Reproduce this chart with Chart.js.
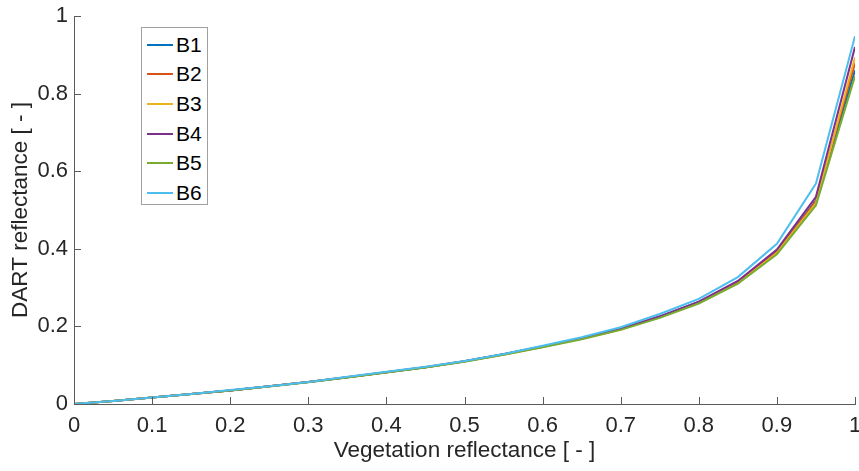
<!DOCTYPE html>
<html>
<head>
<meta charset="utf-8">
<script src="https://cdn.jsdelivr.net/npm/chart.js@4/dist/chart.umd.min.js"></script>
<style>
  body { margin: 0; background: #fff; }
  #wrap { position: relative; width: 859px; height: 471px; }
  #legend {
    position: absolute; left: 141px; top: 27px; width: 67px; height: 178px;
    border: 1px solid #a0a0a0; background: #fff; box-sizing: border-box;
    font-family: "Liberation Sans", Arial, sans-serif; font-size: 21px; color: #000;
    padding-top: 2px;
  }
  #legend .item { display: flex; align-items: center; height: 29.6px; }
  #legend .sw { width: 26px; height: 2px; margin-left: 5px; margin-right: 3px; }
</style>
</head>
<body>
<div id="wrap">
  <canvas id="lineChart" width="859" height="471"></canvas>
  <div id="legend"></div>
</div>
<script>
// Vegetation reflectance vs DART reflectance, bands B1..B6
const xValues = [0, 0.05, 0.1, 0.15, 0.2, 0.25, 0.3, 0.35, 0.4, 0.45, 0.5,
                 0.55, 0.6, 0.65, 0.7, 0.75, 0.8, 0.85, 0.9, 0.95, 1];

const b1 = [0, 0.008, 0.017, 0.026, 0.035, 0.046, 0.057, 0.069, 0.082, 0.095, 0.110,
            0.128, 0.148, 0.169, 0.193, 0.225, 0.263, 0.313, 0.393, 0.525, 0.860];
const b2 = [0, 0.008, 0.017, 0.026, 0.035, 0.046, 0.057, 0.069, 0.082, 0.095, 0.110,
            0.128, 0.148, 0.169, 0.193, 0.224, 0.262, 0.312, 0.392, 0.522, 0.878];
const b3 = [0, 0.008, 0.017, 0.026, 0.035, 0.046, 0.057, 0.069, 0.082, 0.095, 0.110,
            0.127, 0.147, 0.168, 0.192, 0.224, 0.261, 0.311, 0.390, 0.518, 0.893];
const b4 = [0, 0.008, 0.017, 0.026, 0.035, 0.046, 0.057, 0.069, 0.082, 0.095, 0.110,
            0.128, 0.148, 0.170, 0.194, 0.226, 0.264, 0.317, 0.398, 0.534, 0.920];
const b5 = [0, 0.008, 0.017, 0.026, 0.035, 0.045, 0.056, 0.068, 0.081, 0.094, 0.109,
            0.127, 0.146, 0.167, 0.191, 0.222, 0.259, 0.310, 0.386, 0.512, 0.845];
const b6 = [0, 0.008, 0.017, 0.026, 0.036, 0.046, 0.057, 0.070, 0.083, 0.096, 0.111,
            0.129, 0.150, 0.172, 0.198, 0.232, 0.271, 0.327, 0.413, 0.568, 0.948];

const bandNames = ['B1', 'B2', 'B3', 'B4', 'B5', 'B6'];
const bandValues = [b1, b2, b3, b4, b5, b6];
const bandColors = ['#0072BD', '#D95319', '#EDB120', '#7E2F8E', '#77AC30', '#4DBEEE'];

const fontName = '"Liberation Sans", Arial, sans-serif';
const axisColor = '#5a5a5a';
const textColor = '#262626';

// MATLAB style ticks pointing into the plot
const inwardTicks = {
    id: 'inwardTicks',
    afterDatasetsDraw(chart) {
        const ctx = chart.ctx;
        const xs = chart.scales.x, ys = chart.scales.y;
        ctx.save();
        ctx.strokeStyle = axisColor;
        ctx.lineWidth = 1;
        ctx.beginPath();
        xs.ticks.forEach(t => {
            const px = Math.round(xs.getPixelForValue(t.value)) + 0.5;
            ctx.moveTo(px, ys.bottom);
            ctx.lineTo(px, ys.bottom - 7);
        });
        ys.ticks.forEach(t => {
            const py = Math.round(ys.getPixelForValue(t.value)) + 0.5;
            ctx.moveTo(xs.left, py);
            ctx.lineTo(xs.left + 7, py);
        });
        ctx.stroke();
        ctx.restore();
    }
};

const ctxLine = document.getElementById('lineChart').getContext('2d');
const lineChart = new Chart(ctxLine, {
    type: 'line',
    data: {
        datasets: bandNames.map((name, i) => ({
            label: name,
            data: xValues.map((x, j) => ({ x: x, y: bandValues[i][j] })),
            borderColor: bandColors[i],
            backgroundColor: bandColors[i],
            borderWidth: 2,
            pointRadius: 0,
            tension: 0,
            order: 6 - i
        }))
    },
    options: {
        responsive: false,
        animation: false,
        layout: { padding: { top: 16, right: 4, left: 0, bottom: 0 } },
        plugins: {
            legend: { display: false },
            tooltip: { enabled: false }
        },
        scales: {
            x: {
                type: 'linear',
                min: 0,
                max: 1,
                afterFit(scale) {
                    scale.height = 67;
                    scale.paddingRight = 0;
                    scale.paddingLeft = 0;
                },
                grid: { display: true, drawOnChartArea: false, drawTicks: false, color: axisColor },
                border: { display: true, color: axisColor, width: 1 },
                ticks: {
                    stepSize: 0.1,
                    padding: 9,
                    color: textColor,
                    font: { family: fontName, size: 22 },
                    maxRotation: 0,
                    callback: v => String(Math.round(v * 10) / 10)
                },
                title: {
                    display: true,
                    text: 'Vegetation reflectance [ - ]',
                    color: textColor,
                    font: { family: fontName, size: 22.5 },
                    padding: { top: 0, bottom: 7 }
                }
            },
            y: {
                min: 0,
                max: 1,
                afterFit(scale) {
                    scale.width = 74;
                    scale.paddingTop = 0;
                    scale.paddingBottom = 0;
                },
                grid: { display: true, drawOnChartArea: false, drawTicks: false, color: axisColor },
                border: { display: true, color: axisColor, width: 1 },
                ticks: {
                    stepSize: 0.2,
                    padding: 6,
                    color: textColor,
                    font: { family: fontName, size: 22 },
                    callback: v => String(Math.round(v * 10) / 10)
                },
                title: {
                    display: true,
                    text: 'DART reflectance [ - ]',
                    color: textColor,
                    font: { family: fontName, size: 22.5 },
                    padding: { top: 7, bottom: 0 }
                }
            }
        }
    },
    plugins: [inwardTicks]
});

// legend drawn as HTML inside the axes
const legendBox = document.getElementById('legend');
bandNames.forEach((name, i) => {
    const row = document.createElement('div');
    row.className = 'item';
    row.innerHTML = '<span class="sw" style="background:' + bandColors[i] + '"></span><span>' + name + '</span>';
    legendBox.appendChild(row);
});
</script>
</body>
</html>
